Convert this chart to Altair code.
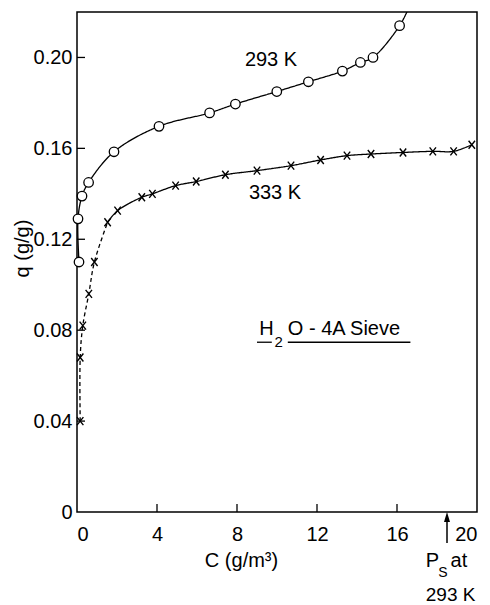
import altair as alt
import pandas as pd

# ---------------- data ----------------
# 293 K isotherm (open circles)
C_293 = [0.10, 0.05, 0.25, 0.58, 1.85, 4.10, 6.63, 7.92, 9.99, 11.57, 13.27, 14.17, 14.80, 16.13]
Q_293 = [0.110, 0.129, 0.139, 0.145, 0.1585, 0.1697, 0.1756, 0.1795, 0.1850, 0.1893, 0.1940, 0.1978, 0.2000, 0.2140]
# the 293 K curve keeps rising past the top of the frame
C_293_EXT = [16.70]
Q_293_EXT = [0.224]

# 333 K isotherm (crosses)
C_333 = [0.16, 0.16, 0.29, 0.59, 0.87, 1.53, 2.03, 3.24, 3.77, 4.93, 5.96, 7.42, 9.00, 10.70,
         12.18, 13.50, 14.70, 16.30, 17.79, 18.83, 19.74]
Q_333 = [0.040, 0.068, 0.082, 0.096, 0.110, 0.1275, 0.1326, 0.1385, 0.1400, 0.1436, 0.1454, 0.1484,
         0.1502, 0.1524, 0.1549, 0.1568, 0.1575, 0.1582, 0.1587, 0.1587, 0.1616]
N_DASHED_333 = 6  # the steep lower part of the 333 K curve is dashed

X_TICKS = [0, 4, 8, 12, 16, 20]
Y_TICKS = [0, 0.04, 0.08, 0.12, 0.16, 0.20]

# annotations (data coordinates)
SERIES_LABELS = ["293 K", "333 K"]
SERIES_LABEL_C = [9.7, 9.9]
SERIES_LABEL_Q = [0.199, 0.1405]

SYS_PARTS = ["H", "2", "O - 4A Sieve"]
SYS_PART_C = [9.11, 9.88, 10.54]
SYS_PART_Q = [0.0777, 0.0725, 0.0777]
SYS_PART_SIZE = [20, 15, 20]
UNDERLINE_C1 = [9.0, 10.54]
UNDERLINE_C2 = [9.74, 16.67]
UNDERLINE_Q = 0.0747

PS_C = 18.5
PS_PARTS = ["P", "S", "at", "293 K"]
PS_PART_C = [17.44, 18.06, 18.68, 17.44]
PS_PART_Q = [-0.0242, -0.0284, -0.0242, -0.0392]
PS_PART_SIZE = [20, 14, 20, 19]

FONT = "Liberation Sans, Arial, sans-serif"
FS = 20

# ---------------- tables ----------------
rows = []
for i, (c, q) in enumerate(zip(C_293 + C_293_EXT, Q_293 + Q_293_EXT)):
    rows.append({"C": c, "q": q, "idx": i, "key": "293", "part": "solid"})
for i, (c, q) in enumerate(zip(C_333, Q_333)):
    if i < N_DASHED_333:
        rows.append({"C": c, "q": q, "idx": i, "key": "333d", "part": "dash"})
    if i >= N_DASHED_333 - 1:
        rows.append({"C": c, "q": q, "idx": i, "key": "333s", "part": "solid"})
lines_df = pd.DataFrame(rows)
p293 = pd.DataFrame({"C": C_293, "q": Q_293})
p333 = pd.DataFrame({"C": C_333, "q": Q_333})

xs = alt.Scale(domain=[0, 20], nice=False, zero=False)
ys = alt.Scale(domain=[0, 0.22], nice=False, zero=False)

X = alt.X("C:Q", scale=xs,
          axis=alt.Axis(values=X_TICKS, title="C (g/m\u00b3)", grid=False, ticks=False, tickSize=0,
                        domain=False, labelPadding=12, labelFontSize=FS, labelFont=FONT,
                        labelColor="black", titleFont=FONT, titleFontSize=FS, titleFontWeight="normal",
                        titleColor="black", titleX=164, titleY=48, titleAlign="center",
                        titleBaseline="middle"))
Y = alt.Y("q:Q", scale=ys,
          axis=alt.Axis(values=Y_TICKS, title="q (g/g)", grid=False, ticks=False, tickSize=0,
                        domain=False, labelPadding=5, labelFontSize=FS, labelFont=FONT,
                        labelColor="black",
                        labelExpr="datum.value == 0 ? '0' : format(datum.value, '.2f')",
                        titleFont=FONT, titleFontSize=FS, titleFontWeight="normal", titleColor="black",
                        titleX=-55, titleY=236, titleAlign="center", titleBaseline="middle"))

lines = alt.Chart(lines_df).mark_line(
    clip=True, color="black", strokeWidth=1.3, interpolate="catmull-rom"
).encode(
    x=X, y=Y, order="idx:Q", detail="key:N",
    strokeDash=alt.StrokeDash("part:N", scale=alt.Scale(domain=["solid", "dash"], range=[[1, 0], [4, 3]]),
                              legend=None),
)

circles = alt.Chart(p293).mark_point(
    shape="circle", filled=True, fill="white", stroke="black", strokeWidth=1.3, size=90, opacity=1
).encode(x="C:Q", y="q:Q")

crosses = alt.Chart(p333).mark_point(
    shape="M-0.8,-1L0.8,1M-0.8,1L0.8,-1", filled=False, stroke="black", strokeWidth=1.4, size=64, opacity=1
).encode(x="C:Q", y="q:Q")

# inward tick marks
xt = alt.Chart(pd.DataFrame({"C": X_TICKS[1:-1]})).mark_rule(color="black", strokeWidth=1.3).encode(
    x="C:Q", y=alt.value(500), y2=alt.value(492))
yt = alt.Chart(pd.DataFrame({"q": Y_TICKS[1:]})).mark_rule(color="black", strokeWidth=1.3).encode(
    y="q:Q", x=alt.value(0), x2=alt.value(8))


def text(df, align="center", baseline="alphabetic"):
    return alt.Chart(df).mark_text(font=FONT, align=align, baseline=baseline, color="black").encode(
        x="C:Q", y="q:Q", text="t:N", size=alt.Size("s:Q", scale=None, legend=None))


series_txt = text(pd.DataFrame({"C": SERIES_LABEL_C, "q": SERIES_LABEL_Q, "t": SERIES_LABELS,
                                "s": [FS, FS]}), baseline="middle")
sys_txt = text(pd.DataFrame({"C": SYS_PART_C, "q": SYS_PART_Q, "t": SYS_PARTS, "s": SYS_PART_SIZE}),
               align="left")
underline = alt.Chart(pd.DataFrame({"C": UNDERLINE_C1, "C2": UNDERLINE_C2, "q": [UNDERLINE_Q] * 2})).mark_rule(
    color="black", strokeWidth=1.3).encode(x="C:Q", x2="C2:Q", y="q:Q")

arrow = alt.Chart(pd.DataFrame({"C": [PS_C], "q1": [-0.003], "q2": [-0.0136]})).mark_rule(
    color="black", strokeWidth=1.5).encode(x="C:Q", y="q1:Q", y2="q2:Q")
head = alt.Chart(pd.DataFrame({"C": [PS_C], "q": [-0.0022]})).mark_point(
    shape="M0,-1L0.6,1L-0.6,1Z", filled=True, color="black", size=100, opacity=1).encode(x="C:Q", y="q:Q")
ps_txt = text(pd.DataFrame({"C": PS_PART_C, "q": PS_PART_Q, "t": PS_PARTS, "s": PS_PART_SIZE}),
              align="left")

chart = alt.layer(
    lines, circles, crosses, xt, yt, series_txt, sys_txt, underline, arrow, head, ps_txt
).properties(
    width=400, height=500, autosize=alt.AutoSizeParams(type="none"),
    padding={"left": 77, "top": 12, "right": 13, "bottom": 93},
    background="white",
).configure_view(stroke="black", strokeWidth=1.5)

chart.save("out.html", embed_options={"renderer": "svg", "actions": False})
